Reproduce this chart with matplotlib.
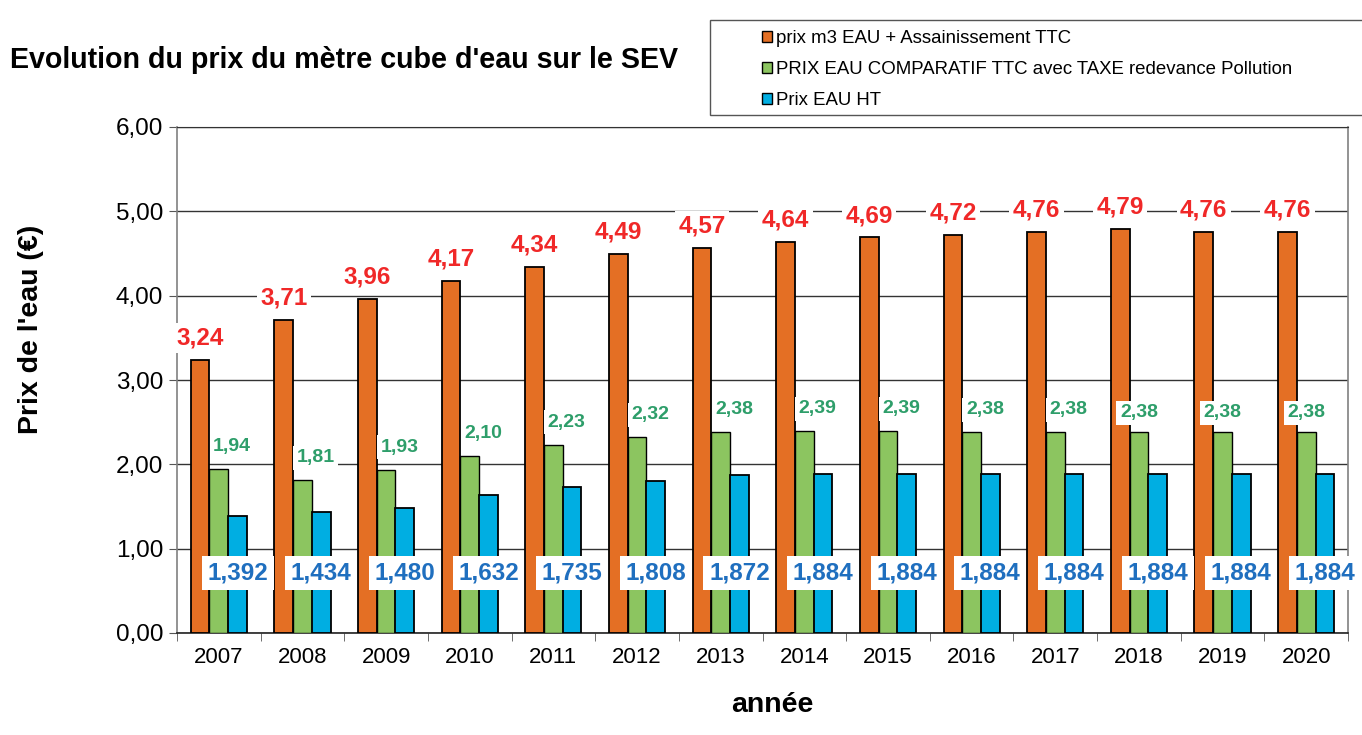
import matplotlib
matplotlib.use("Agg")
import matplotlib.pyplot as plt
import numpy as np
from matplotlib.patches import Rectangle, Patch

plt.rcParams['font.family'] = ['Liberation Sans', 'DejaVu Sans']

years = ["2007", "2008", "2009", "2010", "2011", "2012", "2013", "2014",
         "2015", "2016", "2017", "2018", "2019", "2020"]
prix_ttc = [3.24, 3.71, 3.96, 4.17, 4.34, 4.49, 4.57, 4.64, 4.69, 4.72, 4.76, 4.79, 4.76, 4.76]
prix_comparatif = [1.94, 1.81, 1.93, 2.10, 2.23, 2.32, 2.38, 2.39, 2.39, 2.38, 2.38, 2.38, 2.38, 2.38]
prix_ht = [1.392, 1.434, 1.480, 1.632, 1.735, 1.808, 1.872, 1.884, 1.884, 1.884, 1.884, 1.884, 1.884, 1.884]

series_names = ["prix m3 EAU + Assainissement TTC",
                "PRIX EAU COMPARATIF TTC avec TAXE redevance Pollution",
                "Prix EAU HT"]
yticks = [0, 1, 2, 3, 4, 5, 6]

c_orange = "#E46F24"
c_green = "#8CC560"
c_blue = "#00AEE2"
c_red_lbl = "#F02828"
c_green_lbl = "#2E9E6A"
c_blue_lbl = "#1F6FBF"

fig = plt.figure(figsize=(13.62, 7.35), dpi=100)
ax = fig.add_axes([177/1362, 1 - 633/735, (1348-177)/1362, (633-127)/735])

n = len(years)
x = np.arange(n)
w = 0.224

ax.bar(x - w, prix_ttc, w, color=c_orange, edgecolor="black", linewidth=1.3, zorder=3)
ax.bar(x, prix_comparatif, w, color=c_green, edgecolor="black", linewidth=1.0, zorder=3)
ax.bar(x + w, prix_ht, w, color=c_blue, edgecolor="black", linewidth=1.3, zorder=3)

ax.set_xlim(-0.5, n - 0.5)
ax.set_ylim(0, 6)
ax.set_yticks(yticks)
ax.set_yticklabels([f"{v:.2f}".replace(".", ",") for v in yticks], fontsize=17.5)
ax.yaxis.grid(True, color="#333333", linewidth=1.0, zorder=0)
ax.set_axisbelow(True)

ax.set_xticks(x)
ax.set_xticklabels(years, fontsize=16)
ax.set_xticks(np.arange(-0.5, n, 1.0), minor=True)
ax.tick_params(axis="x", which="major", length=0, pad=10)
ax.tick_params(axis="x", which="minor", length=6, color="#555555")
ax.tick_params(axis="y", length=6, color="#555555", pad=4)

for s in ["left", "right"]:
    ax.spines[s].set_color("#808080")
    ax.spines[s].set_linewidth(1.2)
ax.spines["top"].set_color("#333333")
ax.spines["bottom"].set_color("#222222")
ax.spines["bottom"].set_linewidth(1.2)

def fmt(v, d):
    return f"{v:.{d}f}".replace(".", ",")

box = dict(facecolor="white", edgecolor="none", pad=2.5)
for i in range(n):
    ax.text(x[i] - w, prix_ttc[i] + 0.26, fmt(prix_ttc[i], 2), ha="center", va="center",
            color=c_red_lbl, fontsize=17.5, fontweight="bold", bbox=box, zorder=5, clip_on=False)
    if i < 11:
        gx, gy = x[i] + 0.16, prix_comparatif[i] + 0.27
    else:
        gx, gy = x[i], prix_comparatif[i] + 0.23
    ax.text(gx, gy, fmt(prix_comparatif[i], 2), ha="center", va="center",
            color=c_green_lbl, fontsize=14, fontweight="bold", bbox=box, zorder=5, clip_on=False)
    ax.text(x[i] + w, 0.71, fmt(prix_ht[i], 3), ha="center", va="center",
            color=c_blue_lbl, fontsize=17.5, fontweight="bold",
            bbox=dict(facecolor="white", edgecolor="none", pad=4), zorder=5, clip_on=False)

fig.text(31/1362, 1 - 329/735, "Prix de l'eau (€)", rotation=90, fontsize=20.5,
         fontweight="bold", ha="center", va="center")
fig.text(772/1362, 1 - 705/735, "année", fontsize=20.5, fontweight="bold",
         ha="center", va="center")

fig.text(10/1362, 1 - 60/735, "Evolution du prix du mètre cube d'eau sur le SEV",
         fontsize=20.6, fontweight="bold", ha="left", va="center")

# legend box
fig.patches.append(Rectangle((710/1362, 1 - 115/735), 660/1362, 95/735,
                             transform=fig.transFigure, facecolor="white",
                             edgecolor="#555555", linewidth=1.0))
handles = [Patch(facecolor=c, edgecolor="black", linewidth=1.0) for c in (c_orange, c_green, c_blue)]
fig.legend(handles, series_names, loc="upper left", bbox_to_anchor=(762/1362, 1 - 30/735),
           frameon=False, fontsize=13.4, handlelength=0.55, handleheight=0.55,
           handletextpad=0.2, labelspacing=0.76, borderpad=0, borderaxespad=0)

fig.savefig("out.png", dpi=100)
